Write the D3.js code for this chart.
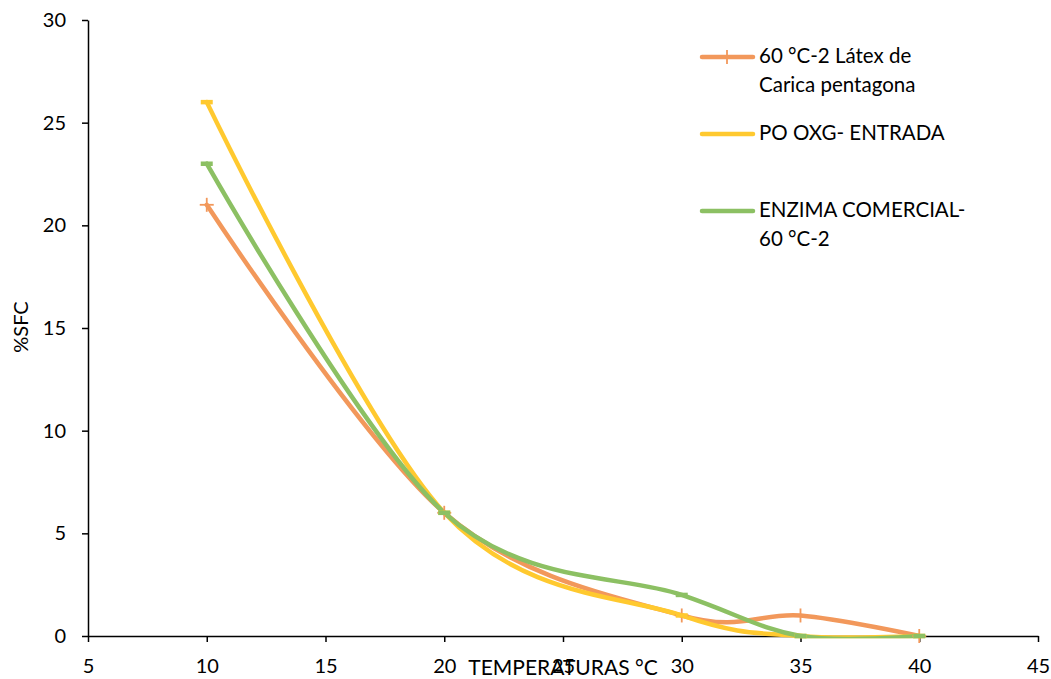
<!DOCTYPE html>
<html>
<head>
<meta charset="utf-8">
<script src="https://cdn.jsdelivr.net/npm/d3@7"></script>
<style>
  body { margin: 0; background: #fff; }
  text { font-family: Lato, "Open Sans", sans-serif; fill: #000; }
</style>
</head>
<body>
<svg id="chart" width="1051" height="679"></svg>
<script>
// data
const temps = [10, 20, 30, 35, 40];
const latex = [21, 6, 1, 1, 0];
const poOxg = [26, 6, 1, 0, 0];
const enzima = [23, 6, 2, 0, 0];

const xTicks = [5, 10, 15, 20, 25, 30, 35, 40, 45];
const yTicks = [0, 5, 10, 15, 20, 25, 30];

const series = [
  { name: ["60 °C-2 Látex de", "Carica pentagona"], values: latex, color: "#F2985B", marker: "plus", legendY: 57 },
  { name: ["PO OXG- ENTRADA"], values: poOxg, color: "#FFC92F", marker: "dash", legendY: 134 },
  { name: ["ENZIMA COMERCIAL-", "60 °C-2"], values: enzima, color: "#8CC063", marker: "dash", legendY: 211 }
];

const svg = d3.select("#chart");

const x = d3.scaleLinear().domain([5, 45]).range([88, 1038]);
const y = d3.scaleLinear().domain([0, 30]).range([636, 20]);

// axes
const xAxis = svg.append("g")
  .attr("transform", `translate(0,${y(0)})`)
  .call(d3.axisBottom(x).tickValues(xTicks).tickSize(6).tickSizeOuter(0).tickPadding(17));
const yAxis = svg.append("g")
  .attr("transform", `translate(${x(5)},0)`)
  .call(d3.axisLeft(y).tickValues(yTicks).tickSize(6).tickSizeOuter(0).tickPadding(16));

[xAxis, yAxis].forEach(a => {
  a.select(".domain").attr("stroke", "#000").attr("stroke-width", 1.5);
  a.selectAll(".tick line").attr("stroke", "#000").attr("stroke-width", 1.5);
  a.selectAll(".tick text").style("font-size", "20px").style("font-family", "Lato, sans-serif").attr("fill", "#000");
});

// axis titles
svg.append("text")
  .attr("x", 563).attr("y", 675)
  .attr("text-anchor", "middle")
  .style("font-size", "21px")
  .text("TEMPERATURAS °C");

svg.append("text")
  .attr("transform", "translate(28,327) rotate(-90)")
  .attr("text-anchor", "middle")
  .style("font-size", "20px")
  .text("%SFC");

// lines, clipped at the plot area like the spreadsheet does
svg.append("clipPath").attr("id", "plotclip")
  .append("rect")
  .attr("x", x(5)).attr("y", 0)
  .attr("width", x(45) - x(5)).attr("height", y(0) + 2.3);

const line = d3.line()
  .x((d, i) => x(temps[i]))
  .y(d => y(d))
  .curve(d3.curveCatmullRom.alpha(0));

const plot = svg.append("g").attr("clip-path", "url(#plotclip)");
series.forEach(s => {
  plot.append("path")
    .datum(s.values)
    .attr("fill", "none")
    .attr("stroke", s.color)
    .attr("stroke-width", 4.5)
    .attr("stroke-linecap", "round")
    .attr("d", line);
});

function drawMarker(g, cx, cy, s) {
  if (s.marker === "plus") {
    g.append("line").attr("x1", cx - 7).attr("x2", cx + 7).attr("y1", cy).attr("y2", cy)
      .attr("stroke", s.color).attr("stroke-width", 1.8);
    g.append("line").attr("x1", cx).attr("x2", cx).attr("y1", cy - 7).attr("y2", cy + 7)
      .attr("stroke", s.color).attr("stroke-width", 1.8);
  } else {
    g.append("line").attr("x1", cx - 6).attr("x2", cx + 6).attr("y1", cy).attr("y2", cy)
      .attr("stroke", s.color).attr("stroke-width", 4.5);
  }
}

const markers = svg.append("g");
series.forEach(s => {
  s.values.forEach((v, i) => drawMarker(markers, x(temps[i]), y(v), s));
});

// legend
const legend = svg.append("g");
series.forEach(s => {
  legend.append("line")
    .attr("x1", 702).attr("x2", 753)
    .attr("y1", s.legendY).attr("y2", s.legendY)
    .attr("stroke", s.color).attr("stroke-width", 4.5)
    .attr("stroke-linecap", "round");
  if (s.marker === "plus") drawMarker(legend, 727, s.legendY, s);
  s.name.forEach((t, k) => {
    legend.append("text")
      .attr("x", 759).attr("y", s.legendY + 6 + k * 29)
      .style("font-size", "20.5px")
      .text(t);
  });
});
</script>
</body>
</html>
